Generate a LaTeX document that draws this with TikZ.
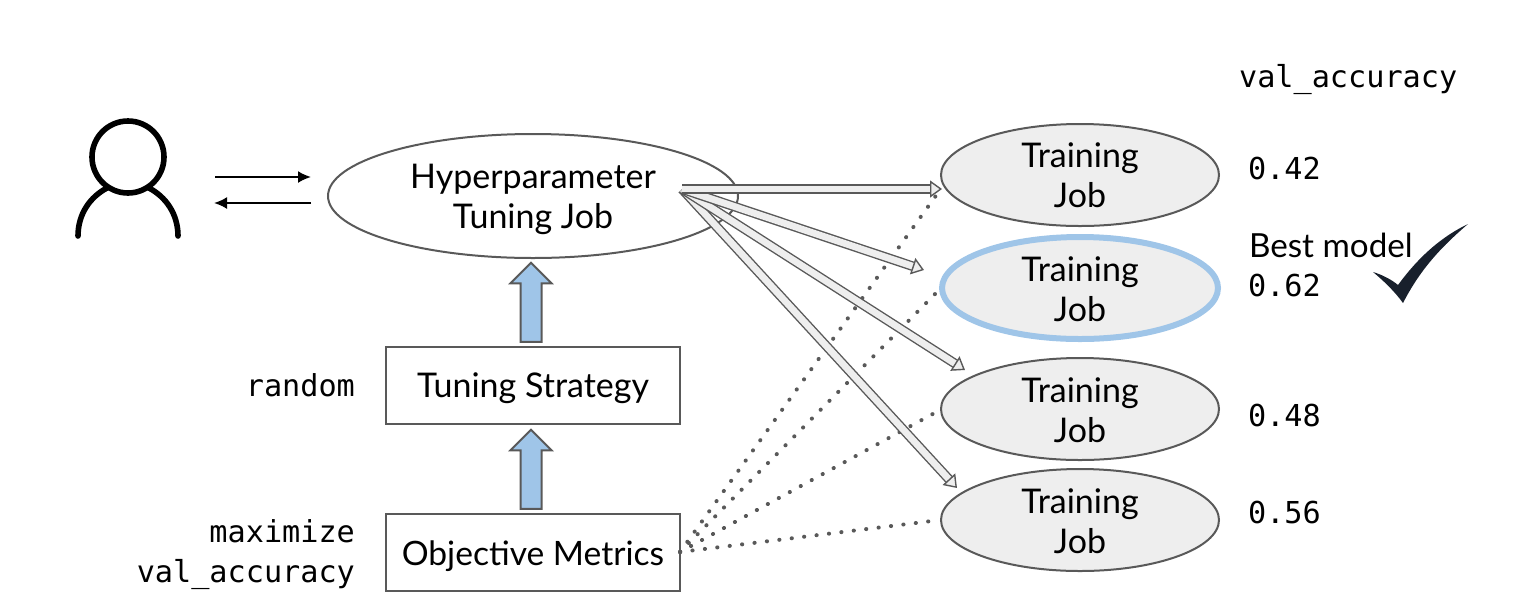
\documentclass[tikz,border=0pt]{standalone}
\usepackage{fontspec}
\setmainfont{Lato}
\setmonofont{DejaVu Sans Mono}
\usetikzlibrary{arrows.meta}
\usetikzlibrary{positioning}
\usetikzlibrary{shapes.arrows}
\usetikzlibrary{shapes.geometric}
\definecolor{linegray}{HTML}{595959}
\definecolor{jobgray}{HTML}{EEEEEE}
\definecolor{bestblue}{HTML}{9FC5E8}
\definecolor{checkdark}{HTML}{18202C}
\newcommand{\toprule}[1]{\rule{0pt}{#1pt}}
\tikzset{
    label text/.style={font=\fontsize{17}{20}\selectfont,align=center,text=black},
    mono text/.style={font=\fontsize{15.1}{20}\ttfamily,align=right,text=black},
    hub/.style={ellipse,draw=linegray,line width=1pt,minimum width=205pt,minimum height=62pt,inner sep=0pt,label text},
    job/.style={ellipse,draw=linegray,line width=1pt,fill=jobgray,minimum width=139pt,minimum height=51pt,inner sep=0pt,label text},
    bestjob/.style={job,draw=bestblue,line width=3pt,minimum width=138pt},
    box/.style={rectangle,draw=linegray,line width=1pt,minimum width=147pt,minimum height=38.5pt,inner sep=0pt,label text},
    blockarrow/.style={single arrow,shape border rotate=90,draw=linegray,line width=1pt,fill=bestblue,minimum height=39.5pt,text width=9.5pt,single arrow head extend=5pt,single arrow tip angle=90,inner sep=0pt},
    fatarrow/.style={draw=linegray,line width=.7pt,double=jobgray,double distance=3.4pt,-{Triangle[open,fill=jobgray,length=6pt,width=8.5pt,line width=.7pt]}},
    dotline/.style={draw=linegray,line width=2pt,line cap=round,dash pattern=on .1pt off 6.15pt},
    msgarrow/.style={draw=black,line width=1pt,-{Latex[length=6.5pt,width=6pt]}},
    usericon/.style={draw=black,line width=2.8pt,line cap=round},
}
\begin{document}
\begin{tikzpicture}[x=.5pt,y=-.5pt]
\useasboundingbox (0,0) rectangle (1522,612);

% user
\node[circle,usericon,minimum size=36pt,inner sep=0pt] (user) at (128,157) {};
\draw[usericon] (78,236) .. controls (78,214) and (90,197) .. (107,188);
\draw[usericon] (178,236) .. controls (178,214) and (166,197) .. (149,188);

% left column
\node[hub] (tuning) at (533,196) {\toprule{15.5}Hyperparameter\\Tuning Job};
\node[box] (strategy) at (533,385.5) {\toprule{15.5}Tuning Strategy};
\node[box,font=\fontsize{16.8}{20}\selectfont] (objective) at (533,552.5) {\toprule{16.5}Objective Metrics};
\node[blockarrow] (up1) at (531,307.5) {};
\node[blockarrow] (up2) at (531,474.5) {};

\node[mono text,anchor=east] (random) at (362,385) {random};
\node[mono text,anchor=east] (maximize) at (362,555) {maximize\\val\_accuracy};

% jobs
\node[job] (job1) at (1080,175) {\toprule{13}Training\\Job};
\node[bestjob] (job2) at (1080,288) {\toprule{13.5}Training\\Job};
\node[job] (job3) at (1080,409) {\toprule{13.5}Training\\Job};
\node[job] (job4) at (1080,520) {\toprule{13.5}Training\\Job};

\node[mono text,anchor=west] (header) at (1232,80) {val\_accuracy};
\node[mono text,anchor=west] (acc1) at (1241,168) {0.42};
\node[mono text,anchor=west] (acc2) at (1241,285) {0.62};
\node[mono text,anchor=west] (acc3) at (1241,415) {0.48};
\node[mono text,anchor=west] (acc4) at (1241,512) {0.56};
\node[label text,anchor=west,font=\fontsize{16.6}{20}\selectfont] (best) at (1242,245) {Best model};

\fill[checkdark] (1373,272) .. controls (1383,275) and (1392,280) .. (1398,285)
    .. controls (1420,255) and (1443,236) .. (1468,224)
    .. controls (1440,248) and (1420,270) .. (1403,303)
    .. controls (1395,292) and (1385,282) .. (1373,272) -- cycle;

% user <-> tuning
\coordinate (msgaL) at (215,177);
\coordinate (msgaR) at (311,177);
\coordinate (msgbL) at (214,203);
\coordinate (msgbR) at (311,203);
\draw[msgarrow] (msgaL) -- (msgaR);
\draw[msgarrow] (msgbR) -- (msgbL);

% objective to jobs
\coordinate (objout) at (680,552);
\foreach \j/\y in {job1/190,job2/290,job3/410,job4/520}
    \draw[dotline] (objout) -- (\j.west |- 0,\y);

% tuning to jobs
\coordinate (fanout) at (682,189);
\coordinate (end1) at (942,189);
\coordinate (end2) at (924,270);
\coordinate (end3) at (965,370);
\coordinate (end4) at (957,488);
\draw[fatarrow] (fanout) -- (end4);
\draw[fatarrow] (fanout) -- (end3);
\draw[fatarrow] (fanout) -- (end2);
\draw[fatarrow] (fanout) -- (end1);
\end{tikzpicture}
\end{document}
